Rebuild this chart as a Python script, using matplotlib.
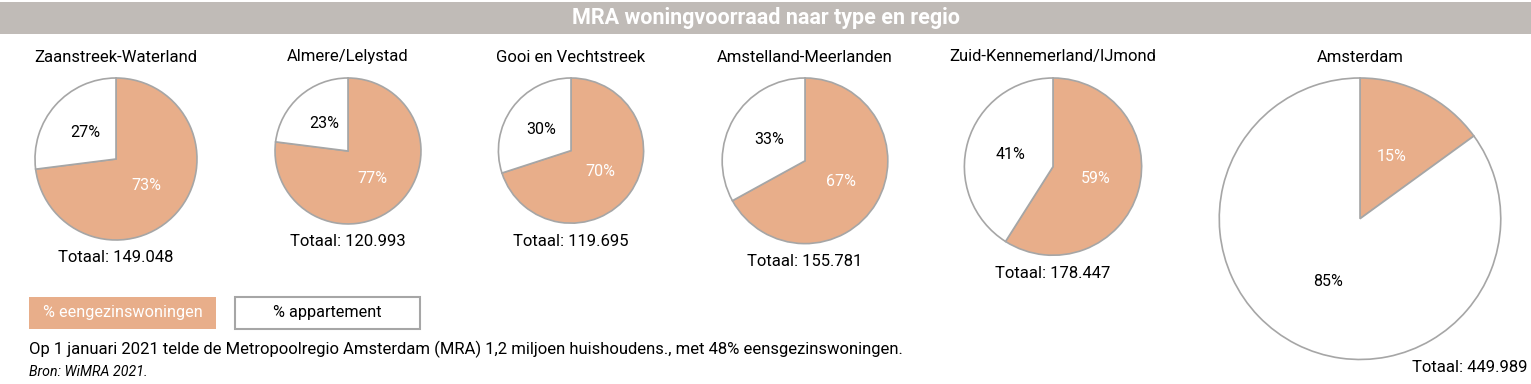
import numpy as np
import matplotlib.pyplot as plt
from matplotlib.patches import Rectangle

plt.rcParams['font.family'] = ['Roboto', 'DejaVu Sans']

# data
regions = ['Zaanstreek-Waterland', 'Almere/Lelystad', 'Gooi en Vechtstreek',
           'Amstelland-Meerlanden', 'Zuid-Kennemerland/IJmond', 'Amsterdam']
eengezins = [73, 77, 70, 67, 59, 15]
appartement = [27, 23, 30, 33, 41, 85]
totals = [149048, 120993, 119695, 155781, 178447, 449989]
totals_txt = ['149.048', '120.993', '119.695', '155.781', '178.447', '449.989']

# layout (pixels)
W, H = 1531, 384
centers_x = [116, 348, 571, 805, 1053, 1360]
top_y = 78
k = 81 / np.sqrt(149048)   # pie radius ~ sqrt(total)

orange = '#E8AE8A'
edge = '#A6A6A6'

fig = plt.figure(figsize=(W / 100, H / 100), dpi=100)
ax = fig.add_axes([0, 0, 1, 1])

def py(y):
    # pixel y (top down) -> data y
    return H - y

for i, name in enumerate(regions):
    r = k * np.sqrt(totals[i])
    cx = centers_x[i]
    cy = py(top_y + r)
    wedges, texts, autotexts = ax.pie(
        [eengezins[i], appartement[i]], center=(cx, cy), radius=r,
        startangle=90, counterclock=False, colors=[orange, 'white'],
        wedgeprops=dict(edgecolor=edge, linewidth=1.2),
        autopct=lambda p: '{:.0f}%'.format(p), pctdistance=0.5,
        textprops=dict(fontsize=11.5))
    autotexts[0].set_color('white')
    autotexts[1].set_color('black')
    ax.text(cx, py(57), name, ha='center', va='center', fontsize=12)
    if i == len(regions) - 1:
        ax.text(W - 3, py(367), 'Totaal: ' + totals_txt[i], ha='right',
                va='center', fontsize=12)
    else:
        ax.text(cx, py(top_y + 2 * r + 18), 'Totaal: ' + totals_txt[i],
                ha='center', va='center', fontsize=12)

# title bar
ax.add_patch(Rectangle((0, py(34)), W, 32, facecolor='#C0BBB7', edgecolor='none'))
ax.text(W / 2, py(18), 'MRA woningvoorraad naar type en regio', ha='center',
        va='center', fontsize=15.5, fontweight='bold', color='white')

# legend boxes
ax.add_patch(Rectangle((29, py(329)), 187, 32, facecolor=orange, edgecolor='none'))
ax.text(29 + 187 / 2, py(313), '% eengezinswoningen', ha='center', va='center',
        fontsize=11.7, color='white')
ax.add_patch(Rectangle((235, py(329)), 185, 32, facecolor='white',
                       edgecolor=edge, linewidth=1.5))
ax.text(235 + 185 / 2, py(313), '% appartement', ha='center', va='center',
        fontsize=11.7, color='black')

# footer
ax.text(29, py(349), 'Op 1 januari 2021 telde de Metropoolregio Amsterdam (MRA) 1,2 miljoen '
        'huishoudens., met 48% eensgezinswoningen.', ha='left', va='center', fontsize=12)
ax.text(29, py(372), 'Bron: WiMRA 2021.', ha='left', va='center', fontsize=10.2,
        style='italic')

ax.set_xlim(0, W)
ax.set_ylim(0, H)
ax.set_aspect('auto')
ax.axis('off')

fig.savefig('out.png', dpi=100)
